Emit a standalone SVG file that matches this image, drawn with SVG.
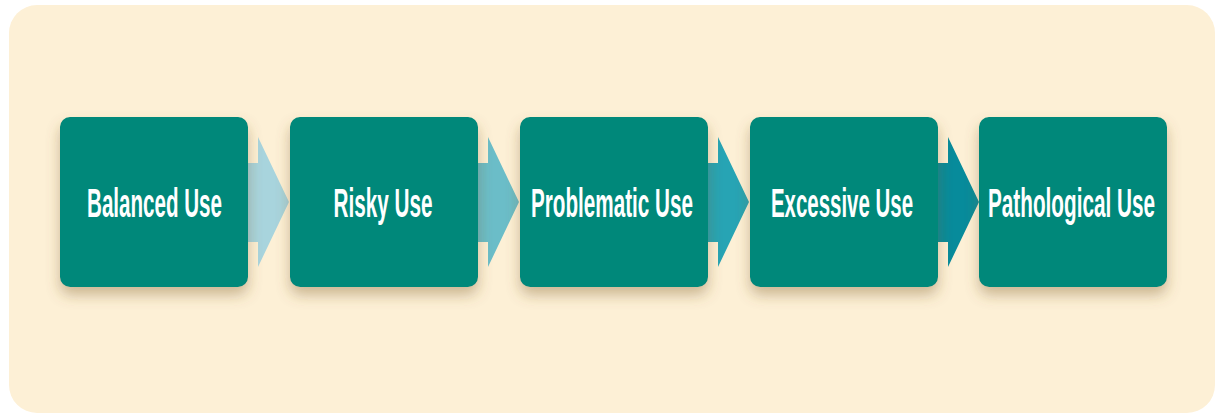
<svg xmlns="http://www.w3.org/2000/svg" width="1219" height="415" viewBox="0 0 1219 415">
  <defs>
    <filter id="shadow" x="-20%" y="-20%" width="140%" height="150%">
      <feDropShadow dx="0" dy="8" stdDeviation="7" flood-color="#7a5a2a" flood-opacity="0.38"/>
    </filter>
    <style>
      .box { fill: #00887A; filter: url(#shadow); }
      .label { fill: #ffffff; font-family: "Liberation Sans", Arial, sans-serif; font-weight: bold; font-size: 40px; text-anchor: middle; }
    </style>
  </defs>

  <rect x="0" y="0" width="1219" height="415" fill="#ffffff"/>
  <rect x="9" y="5" width="1206" height="408" rx="28" fill="#FDF0D6"/>

  <!-- block arrows between stages -->
  <g id="connectors">
    <polygon points="246,163 258,163 258,137 289,202 258,267 258,242 246,242" fill="#A8D4DD"/>
    <polygon points="476,163 488,163 488,137 519,202 488,267 488,242 476,242" fill="#6BBDC8"/>
    <polygon points="706,163 718,163 718,137 749,202 718,267 718,242 706,242" fill="#27A4B4"/>
    <polygon points="936,163 948,163 948,137 979,202 948,267 948,242 936,242" fill="#078B9B"/>
  </g>

  <!-- labels are horizontally condensed with a scale transform -->
  <g id="balanced">
    <rect class="box" x="60" y="117" width="188" height="170" rx="10"/>
    <text class="label" transform="translate(154.5,217) scale(0.52,1)" textLength="259.6" lengthAdjust="spacingAndGlyphs">Balanced Use</text>
  </g>
  <g id="risky">
    <rect class="box" x="290" y="117" width="188" height="170" rx="10"/>
    <text class="label" transform="translate(383,217) scale(0.52,1)" textLength="190.4" lengthAdjust="spacingAndGlyphs">Risky Use</text>
  </g>
  <g id="problematic">
    <rect class="box" x="520" y="117" width="188" height="170" rx="10"/>
    <text class="label" transform="translate(612,217) scale(0.52,1)" textLength="311.5" lengthAdjust="spacingAndGlyphs">Problematic Use</text>
  </g>
  <g id="excessive">
    <rect class="box" x="750" y="117" width="188" height="170" rx="10"/>
    <text class="label" transform="translate(842,217) scale(0.52,1)" textLength="273.1" lengthAdjust="spacingAndGlyphs">Excessive Use</text>
  </g>
  <g id="pathological">
    <rect class="box" x="979" y="117" width="188" height="170" rx="10"/>
    <text class="label" transform="translate(1071.5,217) scale(0.52,1)" textLength="321.2" lengthAdjust="spacingAndGlyphs">Pathological Use</text>
  </g>
</svg>
